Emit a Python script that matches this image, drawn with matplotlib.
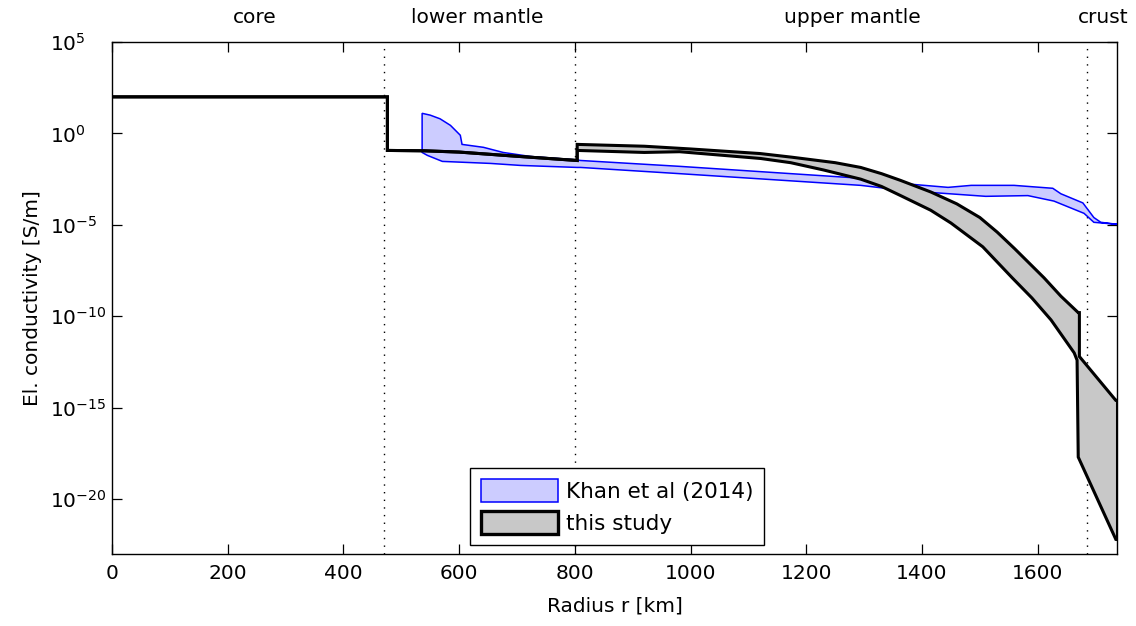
import numpy as np
import matplotlib
matplotlib.use("Agg")
import matplotlib.pyplot as plt
from matplotlib.patches import Patch

plt.rcParams['font.family'] = ['DejaVu Sans']
plt.rcParams['mathtext.default'] = 'regular'
plt.rcParams['axes.unicode_minus'] = False

FS = 14.5
FS_LEG = 15.5

# ---- data (radius in km, log10 conductivity in S/m) ----
# This study: upper boundary
ts_upper_r = [0, 476, 476, 540, 600, 700, 804, 804, 920, 1000, 1120, 1175, 1250, 1294,
              1330, 1363, 1415, 1460, 1500, 1530, 1560, 1611, 1640, 1670, 1672, 1672, 1735, 1737]
ts_upper_log = [2.0, 2.0, -0.93, -0.95, -1.02, -1.25, -1.48, -0.6, -0.7, -0.85, -1.1, -1.3, -1.6, -1.86,
                -2.2, -2.57, -3.2, -3.85, -4.6, -5.4, -6.3, -7.9, -8.9, -9.8, -9.8, -12.2, -14.6, -14.6]
# This study: lower boundary
ts_lower_r = [0, 476, 476, 540, 600, 700, 804, 804, 920, 981, 1121, 1173, 1230, 1294,
              1330, 1363, 1415, 1450, 1505, 1556, 1590, 1623, 1663, 1668, 1670, 1735, 1737]
ts_lower_log = [2.0, 2.0, -0.93, -0.95, -1.02, -1.25, -1.48, -0.93, -1.04, -1.0, -1.37, -1.6, -2.0, -2.5,
                -2.9, -3.4, -4.2, -4.9, -6.2, -7.9, -9.0, -10.2, -12.0, -12.4, -17.7, -22.2, -22.2]

# Khan et al (2014): upper boundary
kh_upper_r = [536, 536, 550, 567, 585, 602, 605, 642, 676, 723, 804, 810, 981, 1294, 1329,
              1363, 1445, 1485, 1559, 1626, 1640, 1678, 1697, 1709, 1737]
kh_upper_log = [-1.04, 1.1, 1.0, 0.8, 0.44, -0.1, -0.6, -0.76, -1.04, -1.26, -1.45, -1.48, -1.8,
                -2.45, -2.6, -2.73, -2.95, -2.84, -2.84, -3.0, -3.3, -3.8, -4.6, -4.86, -4.97]
# Khan et al (2014): lower boundary
kh_lower_r = [536, 545, 571, 654, 706, 804, 810, 981, 1294, 1363, 1403, 1510, 1583, 1628,
              1680, 1697, 1737]
kh_lower_log = [-1.04, -1.2, -1.53, -1.64, -1.75, -1.86, -1.86, -2.2, -2.84, -3.1, -3.2, -3.44,
                -3.4, -3.7, -4.37, -4.86, -4.97]

boundaries_km = [470, 800, 1685]
region_names = ["core", "lower mantle", "upper mantle", "crust"]
region_x_km = [246, 631, 1279, 1713]
y_tick_exps = [5, 0, -5, -10, -15, -20]
x_ticks = [0, 200, 400, 600, 800, 1000, 1200, 1400, 1600]

# ---- figure ----
fig = plt.figure(figsize=(11.36, 6.26), dpi=100)
ax = fig.add_axes([112/1136, 1 - 554/626, (1117 - 112)/1136, (554 - 42)/626])

def polygon(r_up, v_up, r_lo, v_lo):
    x = list(r_up) + list(r_lo)[::-1]
    y = list(10.0 ** np.array(v_up)) + list(10.0 ** np.array(v_lo))[::-1]
    return x, y

kx, ky = polygon(kh_upper_r, kh_upper_log, kh_lower_r, kh_lower_log)
ax.fill(kx, ky, facecolor='#ccccff', edgecolor='#0000ff', linewidth=1.1, zorder=3)

tx, ty = polygon(ts_upper_r, ts_upper_log, ts_lower_r, ts_lower_log)
ax.fill(tx, ty, facecolor='#c8c8c8', edgecolor='none', zorder=4)
ax.plot(ts_upper_r, 10.0 ** np.array(ts_upper_log), color='black', lw=2.2, zorder=5,
        solid_joinstyle='miter')
ax.plot(ts_lower_r, 10.0 ** np.array(ts_lower_log), color='black', lw=2.2, zorder=5,
        solid_joinstyle='miter')
ax.plot([ts_upper_r[-1], ts_lower_r[-1]],
        [10.0 ** ts_upper_log[-1], 10.0 ** ts_lower_log[-1]], color='black', lw=2.2, zorder=5)

for b in boundaries_km:
    ax.axvline(b, color='black', lw=1.0, linestyle=(0, (1, 4.5)), zorder=2)

ax.set_yscale('log')
ax.set_xlim(0, 1737)
ax.set_ylim(1e-23, 1e5)
ax.set_xticks(x_ticks)
ax.set_xticklabels([str(t) for t in x_ticks])
ax.set_yticks([10.0 ** e for e in y_tick_exps])
ax.set_yticklabels([r'$10^{%d}$' % e for e in y_tick_exps])
ax.yaxis.set_minor_locator(matplotlib.ticker.NullLocator())
ax.tick_params(which='both', direction='in', length=7, width=0.9, top=True, right=True,
               labelsize=FS, colors='black')
ax.tick_params(axis='x', pad=7)
ax.tick_params(axis='y', pad=(112 - 50) * 0.72)
for lab in ax.get_yticklabels():
    lab.set_horizontalalignment('left')
for s in ax.spines.values():
    s.set_linewidth(1.0)

ax.set_xlabel('Radius r [km]', fontsize=FS, labelpad=10)
ax.set_ylabel('El. conductivity [S/m]', fontsize=FS, labelpad=6)

trans = matplotlib.transforms.blended_transform_factory(ax.transData, ax.transAxes)
for name, xk in zip(region_names, region_x_km):
    ax.text(xk, 1.047, name, transform=trans, ha='center', va='center', fontsize=FS)

handles = [Patch(facecolor='#ccccff', edgecolor='#0000ff', linewidth=1.1),
           Patch(facecolor='#c8c8c8', edgecolor='black', linewidth=2.4)]
leg = ax.legend(handles, ['Khan et al (2014)', 'this study'], loc='lower left',
                bbox_to_anchor=((470 - 112) / 1005, (554 - 545) / 512), fontsize=FS_LEG,
                fancybox=False, edgecolor='black', framealpha=1, handlelength=3.6,
                handleheight=1.3, borderpad=0.5, labelspacing=0.4, handletextpad=0.35,
                borderaxespad=0)
leg.get_frame().set_linewidth(1.0)
leg.set_zorder(10)

fig.savefig('out.png', dpi=100)
